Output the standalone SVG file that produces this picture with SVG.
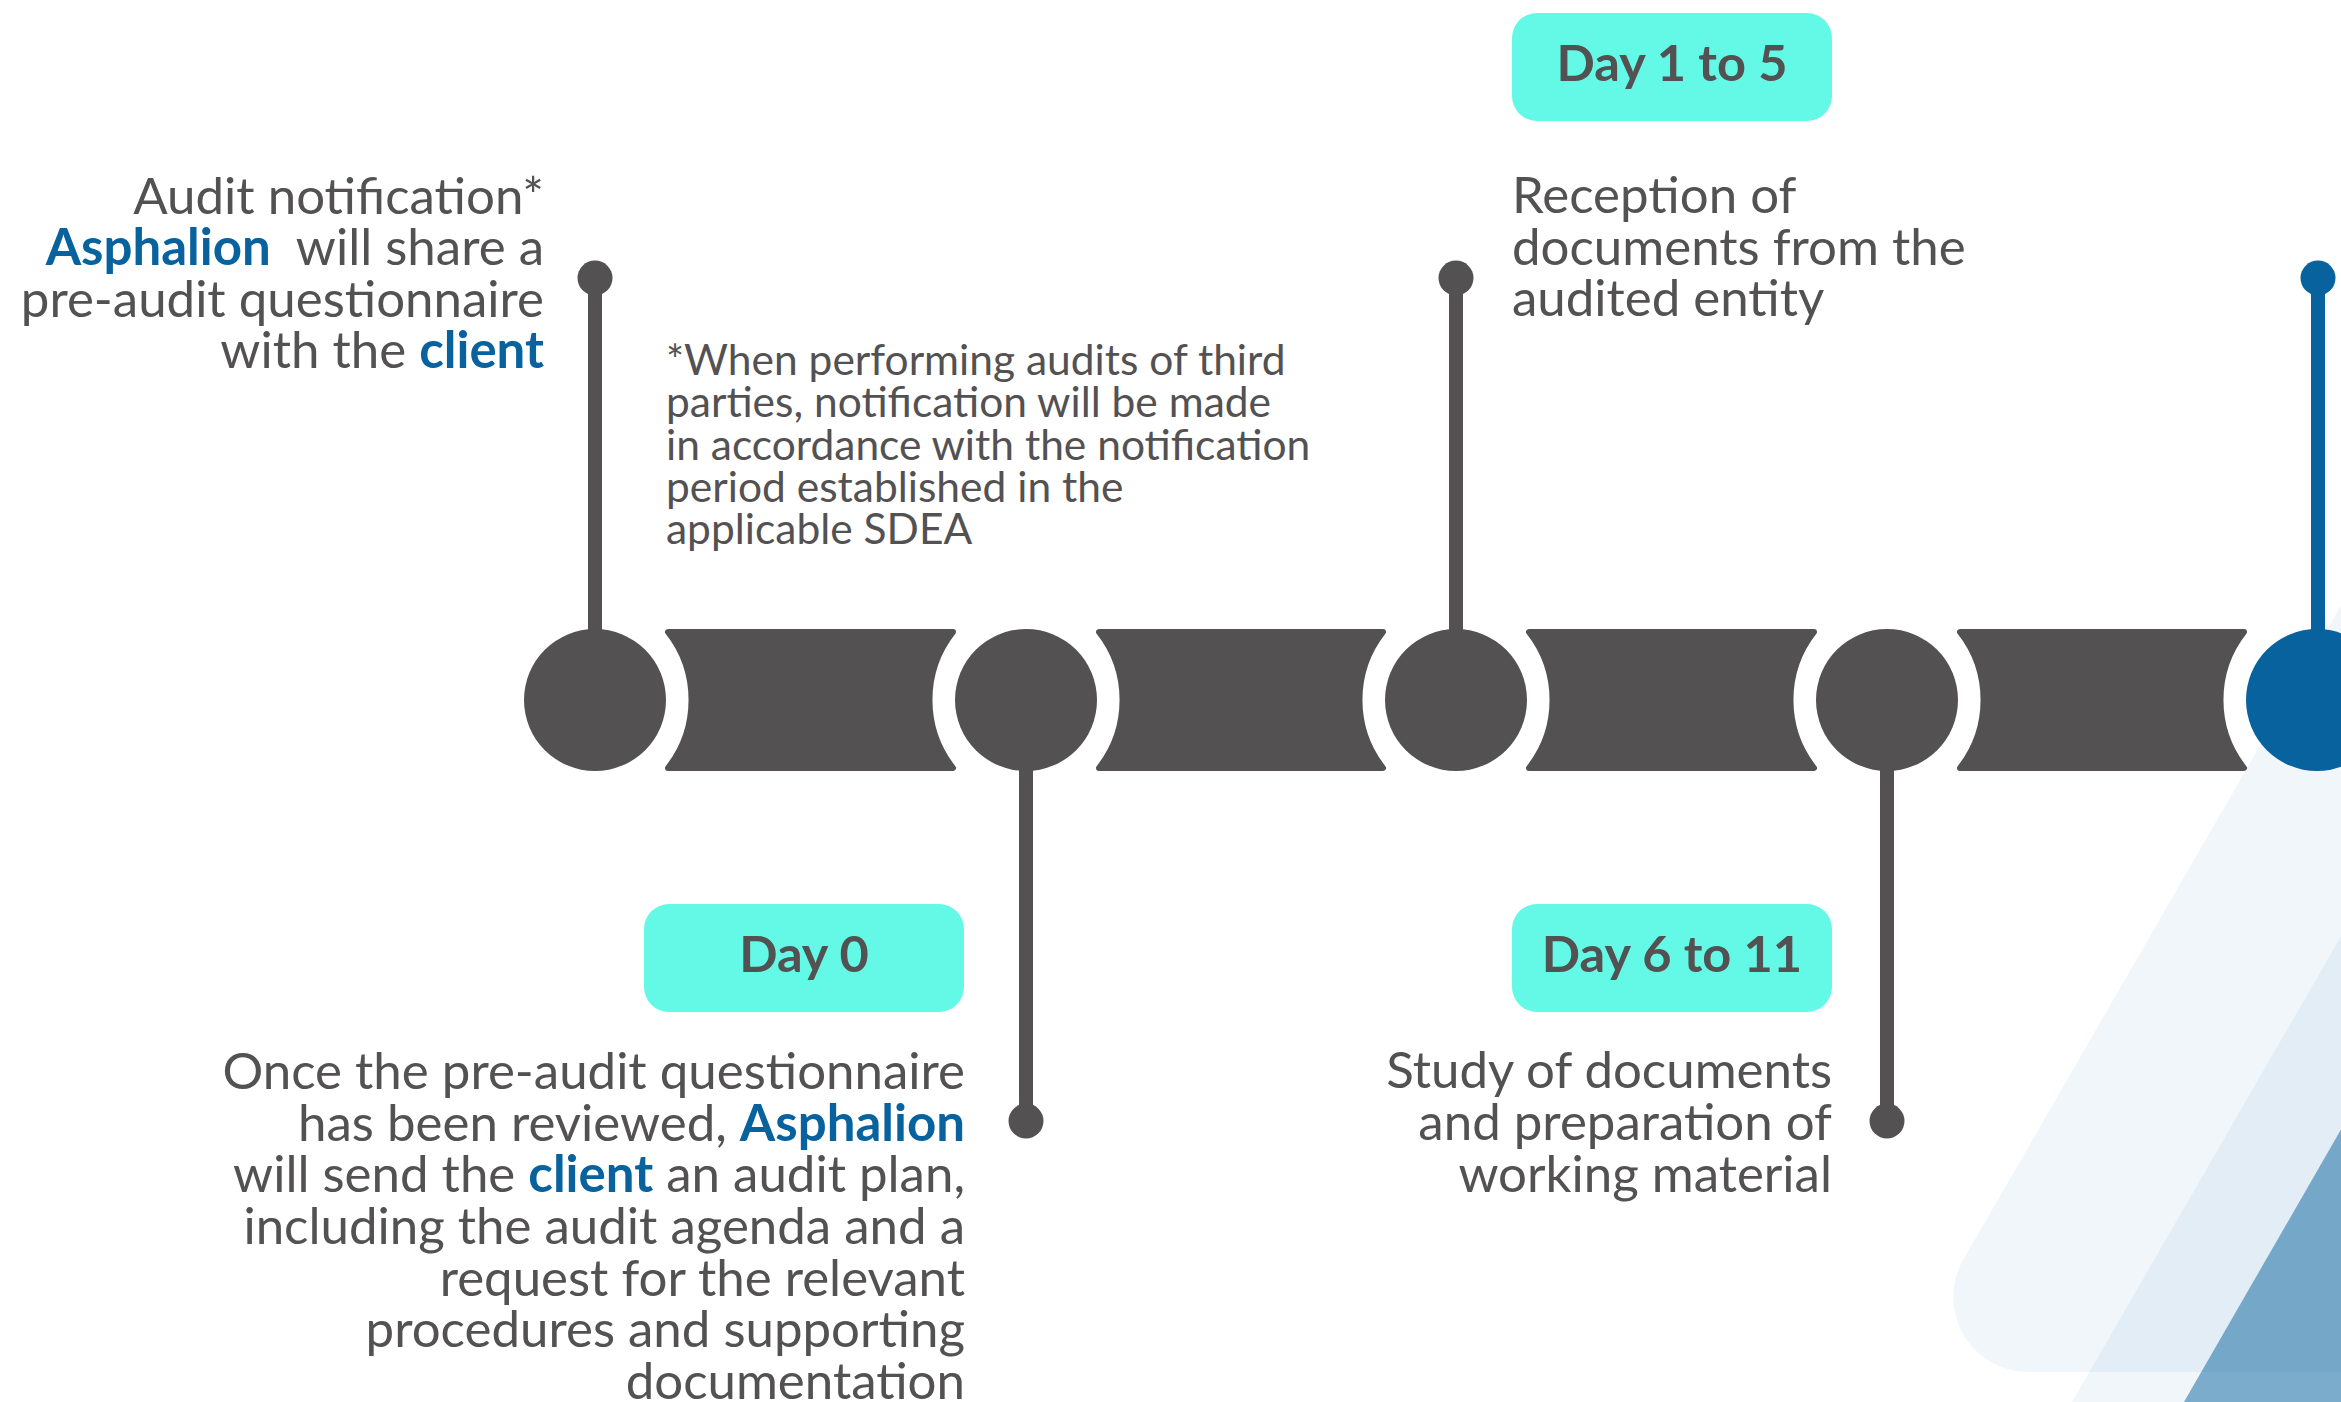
<svg xmlns="http://www.w3.org/2000/svg" width="2341" height="1402" viewBox="0 0 2341 1402">
  <style>
    .txt { font-family: Lato, "Source Sans Pro", "Liberation Sans", sans-serif; font-size: 51px; fill: #535152; }
    .end { text-anchor: end; }
    .note { font-family: Lato, "Source Sans Pro", "Liberation Sans", sans-serif; font-size: 42.5px; fill: #535152; }
    .hl { font-weight: bold; fill: #07629e; }
    .day { font-family: Lato, "Source Sans Pro", "Liberation Sans", sans-serif; font-size: 50.5px; font-weight: bold; fill: #535152; text-anchor: middle; }
    .box { fill: #64f9e6; }
    .gray { fill: #535152; }
    .blue { fill: #07629e; }
    .band { fill: #535152; stroke: #535152; stroke-width: 6; stroke-linejoin: round; }
    .deco { fill: #07629e; }
  </style>

  <g id="background">
    <path class="deco" fill-opacity="0.055" d="M 2400 503 L 1963.4 1259.5 A 75 75 0 0 0 2028.3 1372 L 2400 1372 Z"/>
    <path class="deco" fill-opacity="0.055" d="M 2362 900 L 2061.6 1420 L 2400 1420 L 2400 900 Z"/>
    <path class="deco" fill-opacity="0.5" d="M 2358 1100 L 2173.6 1420 L 2400 1420 L 2400 1100 Z"/>
  </g>

  <g id="connectors">
    <path class="band" d="M 668 632 L 953 632 A 110 110 0 0 0 953 768 L 668 768 A 110 110 0 0 0 668 632 Z"/>
    <path class="band" d="M 1099 632 L 1383 632 A 110 110 0 0 0 1383 768 L 1099 768 A 110 110 0 0 0 1099 632 Z"/>
    <path class="band" d="M 1529 632 L 1814 632 A 110 110 0 0 0 1814 768 L 1529 768 A 110 110 0 0 0 1529 632 Z"/>
    <path class="band" d="M 1960 632 L 2244 632 A 110 110 0 0 0 2244 768 L 1960 768 A 110 110 0 0 0 1960 632 Z"/>
  </g>

  <g id="node-1">
    <rect class="gray" x="588" y="278" width="14" height="422"/>
    <circle class="gray" cx="595" cy="278" r="17.5"/>
    <circle class="gray" cx="595" cy="700" r="71"/>
    <text class="txt end" x="544" y="214">Audit notification*</text>
    <text class="txt end" x="544" y="265"><tspan class="hl">Asphalion</tspan>&#160; will share a</text>
    <text class="txt end" x="544" y="317">pre-audit questionnaire</text>
    <text class="txt end" x="544" y="368">with the <tspan class="hl">client</tspan></text>
  </g>

  <g id="footnote">
    <text class="note" x="666" y="375">*When performing audits of third</text>
    <text class="note" x="666" y="417">parties, notification will be made</text>
    <text class="note" x="666" y="460">in accordance with the notification</text>
    <text class="note" x="666" y="502">period established in the</text>
    <text class="note" x="666" y="544">applicable SDEA</text>
  </g>

  <g id="node-2">
    <rect class="gray" x="1019" y="700" width="14" height="421"/>
    <circle class="gray" cx="1026" cy="1121" r="17.5"/>
    <circle class="gray" cx="1026" cy="700" r="71"/>
    <rect class="box" x="644" y="904" width="320" height="108" rx="25"/>
    <text class="day" x="804" y="972">Day 0</text>
    <text class="txt end" x="965" y="1089">Once the pre-audit questionnaire</text>
    <text class="txt end" x="965" y="1141">has been reviewed, <tspan class="hl">Asphalion</tspan></text>
    <text class="txt end" x="965" y="1192">will send the <tspan class="hl">client</tspan> an audit plan,</text>
    <text class="txt end" x="965" y="1244">including the audit agenda and a</text>
    <text class="txt end" x="965" y="1296">request for the relevant</text>
    <text class="txt end" x="965" y="1347">procedures and supporting</text>
    <text class="txt end" x="965" y="1399">documentation</text>
  </g>

  <g id="node-3">
    <rect class="gray" x="1449" y="278" width="14" height="422"/>
    <circle class="gray" cx="1456" cy="278" r="17.5"/>
    <circle class="gray" cx="1456" cy="700" r="71"/>
    <rect class="box" x="1512" y="13" width="320" height="108" rx="25"/>
    <text class="day" x="1672" y="81">Day 1 to 5</text>
    <text class="txt" x="1512" y="213">Reception of</text>
    <text class="txt" x="1512" y="265">documents from the</text>
    <text class="txt" x="1512" y="316">audited entity</text>
  </g>

  <g id="node-4">
    <rect class="gray" x="1880" y="700" width="14" height="421"/>
    <circle class="gray" cx="1887" cy="1121" r="17.5"/>
    <circle class="gray" cx="1887" cy="700" r="71"/>
    <rect class="box" x="1512" y="904" width="320" height="108" rx="25"/>
    <text class="day" x="1672" y="972">Day 6 to 11</text>
    <text class="txt end" x="1832" y="1088">Study of documents</text>
    <text class="txt end" x="1832" y="1140">and preparation of</text>
    <text class="txt end" x="1832" y="1192">working material</text>
  </g>

  <g id="node-5">
    <rect class="blue" x="2311" y="278" width="14" height="422"/>
    <circle class="blue" cx="2318" cy="278" r="17.5"/>
    <circle class="blue" cx="2317" cy="700" r="71"/>
  </g>
</svg>
